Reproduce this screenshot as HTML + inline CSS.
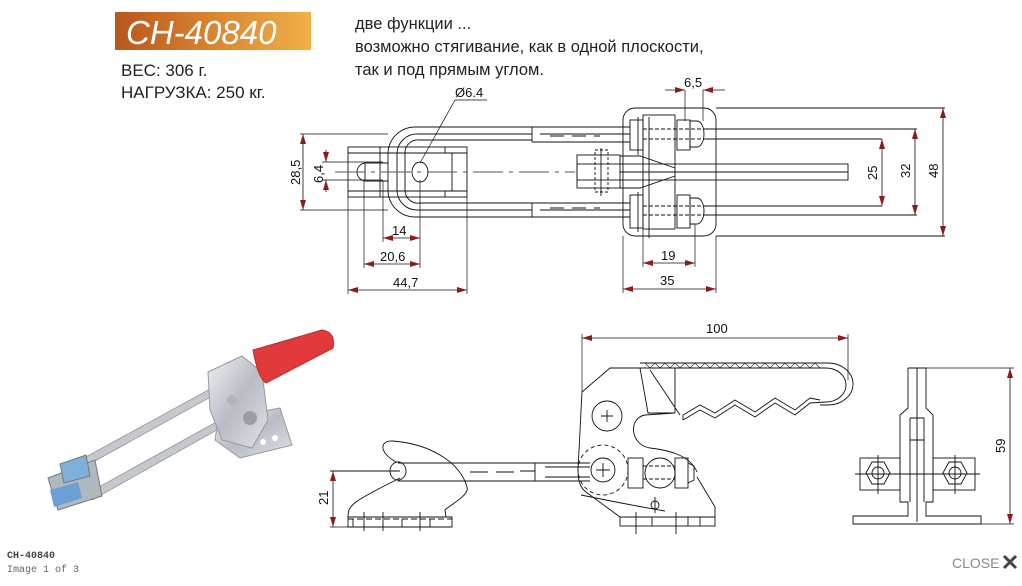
<!DOCTYPE html>
<html><head><meta charset="utf-8"><style>
html,body{margin:0;padding:0;background:#fff;width:1022px;height:586px;overflow:hidden}
svg{position:absolute;left:0;top:0}
text{font-family:"Liberation Sans",sans-serif}
text.mono{font-family:"Liberation Mono",monospace}
</style></head><body>
<svg width="1022" height="586" viewBox="0 0 1022 586" xmlns="http://www.w3.org/2000/svg">
<defs>
<linearGradient id="og" x1="0" x2="1" y1="0" y2="0"><stop offset="0" stop-color="#b8561c"/><stop offset="0.5" stop-color="#d98530"/><stop offset="1" stop-color="#f0b048"/></linearGradient>
<marker id="a" viewBox="0 0 10 6" refX="10" refY="3" markerWidth="10" markerHeight="6" orient="auto-start-reverse" markerUnits="userSpaceOnUse"><path d="M0,0 L10,3 L0,6z" fill="#8b1c1c"/></marker>
<linearGradient id="mg" x1="0" x2="1" y1="0" y2="1"><stop offset="0" stop-color="#eef0f3"/><stop offset="0.5" stop-color="#b8bcc4"/><stop offset="1" stop-color="#e0e3e8"/></linearGradient>
</defs>
<!-- header -->
<rect x="115" y="12" width="196" height="38" fill="url(#og)"/>
<text x="126" y="44" font-size="33" font-style="italic" fill="#fff">CH-40840</text>
<text x="121" y="76" font-size="17" fill="#222">ВЕС: 306 г.</text>
<text x="121" y="98" font-size="17" fill="#222">НАГРУЗКА: 250 кг.</text>
<text x="355" y="29" font-size="16.5" fill="#222">две функции ...</text>
<text x="355" y="52" font-size="16.5" fill="#222">возможно стягивание, как в одной плоскости,</text>
<text x="355" y="75" font-size="16.5" fill="#222">так и под прямым углом.</text>

<!-- photo -->
<g>
<path d="M62,470 L212,388 L216,394 L66,477z" fill="#c5c9cf" stroke="#888" stroke-width="0.7"/>
<path d="M88,493 L220,420 L224,426 L92,500z" fill="#c5c9cf" stroke="#888" stroke-width="0.7"/>
<path d="M48,478 L95,460 L102,496 L58,510z" fill="#b0b8c2" stroke="#777"/>
<path d="M60,464 L86,455 L90,476 L64,483z" fill="#7fb0dc" stroke="#777"/>
<path d="M50,490 L78,482 L82,498 L54,507z" fill="#6aa0d4"/>
<path d="M218,420 L280,408 L292,445 L240,458 L215,440z" fill="url(#mg)" stroke="#999"/>
<path d="M208,372 L242,356 L262,372 L268,420 L252,448 L222,440 L210,410z" fill="url(#mg)" stroke="#999"/>
<circle cx="250" cy="418" r="7" fill="#9a9ea6"/>
<circle cx="232" cy="400" r="5" fill="#b0b4bb"/>
<circle cx="263" cy="442" r="3" fill="#fff"/><circle cx="275" cy="438" r="3" fill="#fff"/>
<path d="M253,350 L322,330 Q336,332 333,348 L266,383 Q258,378 253,350z" fill="#e03a3a" stroke="#c02828"/>
</g>

<!-- footer -->
<text class="mono" x="7" y="558" font-size="10" font-weight="bold" fill="#444">CH-40840</text>
<text class="mono" x="7" y="572" font-size="10" fill="#666">Image 1 of 3</text>
<text x="952" y="568" font-size="14" fill="#888">CLOSE</text>
<path d="M1004,556 L1016,568 M1016,556 L1004,568" stroke="#444" stroke-width="3"/>

<!-- TOP DRAWING -->
<g fill="none" stroke="#111" stroke-width="0.9">
<rect x="348" y="147" width="119" height="50"/>
<line x1="348" y1="153" x2="467" y2="153"/><line x1="348" y1="191" x2="467" y2="191"/>
<line x1="380" y1="147" x2="380" y2="197"/><line x1="445" y1="147" x2="445" y2="153"/><line x1="445" y1="191" x2="445" y2="197"/>
<line x1="452" y1="153" x2="452" y2="191"/>
<path d="M388,163 L366,163 A9,9 0 0 0 366,181 L388,181"/>
<line x1="365" y1="163" x2="365" y2="181"/>
<ellipse cx="420" cy="172" rx="8" ry="10"/>
<path d="M532,127 L415,127 A27,27 0 0 0 388,154 L388,190 A27,27 0 0 0 415,217 L532,217"/>
<path d="M532,134 L418,134 A20,20 0 0 0 397,154 L397,190 A20,20 0 0 0 418,210 L532,210"/>
<path d="M532,140 L420,140 A13,13 0 0 0 405,154 L405,190 A13,13 0 0 0 420,203 L532,203"/>
<path d="M532,127 L630,127 M532,142 L630,142 M532,127 L532,142 M540,134 L630,134"/>
<path d="M532,203 L630,203 M532,217 L630,217 M532,203 L532,217 M540,210 L630,210"/>
<path d="M550,136 L600,136 M550,208 L600,208" stroke-dasharray="14,8"/>
<line x1="335" y1="172" x2="575" y2="172" stroke="#555" stroke-dasharray="30,6,4,6"/>
<rect x="577" y="155" width="43" height="33"/>
<rect x="577" y="164" width="271" height="16"/>
<path d="M620,156 L640,156 L675,168 M620,188 L640,188 L675,176 M620,172 L848,172"/>
<path d="M595,150 L608,150 L608,192 L595,192z" stroke-dasharray="3,2"/>
<line x1="601" y1="148" x2="601" y2="196"/>
<rect x="623" y="108" width="93" height="128" rx="12"/>
<rect x="643" y="115" width="32" height="114"/>
<rect x="630" y="120" width="13" height="30"/><rect x="677" y="120" width="13" height="30"/>
<path d="M690,121 L697,121 A7,13 0 0 1 697,147 L690,147z"/>
<rect x="630" y="195" width="13" height="33"/><rect x="677" y="195" width="13" height="33"/>
<path d="M690,198 L697,198 A7,13 0 0 1 697,224 L690,224z"/>
<path d="M643,129 L703,129 M643,139 L703,139 M643,206 L703,206 M643,215 L703,215" stroke-dasharray="4,2"/>
<line x1="638" y1="117" x2="638" y2="155"/><line x1="638" y1="192" x2="638" y2="232"/>
<line x1="649" y1="117" x2="649" y2="238"/>
<path d="M703,129 L917,129 M703,139 L882,139 M703,206 L882,206 M703,215 L917,215 M716,108 L945,108 M716,236 L945,236"/>
</g>
<g fill="none" stroke="#111" stroke-width="0.7">
<path d="M300,134 L388,134 M300,210 L388,210 M322,162 L383,162 M322,180 L383,180"/>
<path d="M348,197 L348,294 M467,197 L467,294 M364,181 L364,268 M420,180 L420,268 M383,181 L383,242"/>
<path d="M623,236 L623,293 M716,236 L716,293 M643,229 L643,267 M695,224 L695,267"/>
<path d="M685,90 L685,121 M703,90 L703,121"/>
<path d="M420,163 L455,100 L487,100"/>
</g>
<g stroke="#111" stroke-width="0.8" fill="none">
<line x1="303" y1="134" x2="303" y2="210" marker-start="url(#a)" marker-end="url(#a)"/>
<line x1="326" y1="150" x2="326" y2="162" marker-end="url(#a)"/>
<line x1="326" y1="192" x2="326" y2="180" marker-end="url(#a)"/>
<line x1="383" y1="238" x2="420" y2="238" marker-start="url(#a)" marker-end="url(#a)"/>
<line x1="364" y1="264" x2="420" y2="264" marker-start="url(#a)" marker-end="url(#a)"/>
<line x1="348" y1="290" x2="467" y2="290" marker-start="url(#a)" marker-end="url(#a)"/>
<line x1="643" y1="263" x2="695" y2="263" marker-start="url(#a)" marker-end="url(#a)"/>
<line x1="623" y1="289" x2="716" y2="289" marker-start="url(#a)" marker-end="url(#a)"/>
<line x1="665" y1="90" x2="685" y2="90" marker-end="url(#a)"/>
<line x1="725" y1="90" x2="703" y2="90" marker-end="url(#a)"/>
<line x1="882" y1="139" x2="882" y2="206" marker-start="url(#a)" marker-end="url(#a)"/>
<line x1="915" y1="129" x2="915" y2="215" marker-start="url(#a)" marker-end="url(#a)"/>
<line x1="943" y1="108" x2="943" y2="236" marker-start="url(#a)" marker-end="url(#a)"/>
</g>
<g font-size="13" fill="#111">
<text x="455" y="97">Ø6.4</text>
<text x="392" y="235">14</text>
<text x="380" y="261">20,6</text>
<text x="393" y="287">44,7</text>
<text x="661" y="260">19</text>
<text x="660" y="285">35</text>
<text x="684" y="87">6,5</text>
<text transform="translate(300,185) rotate(-90)">28,5</text>
<text transform="translate(323,183) rotate(-90)">6,4</text>
<text transform="translate(877,180) rotate(-90)">25</text>
<text transform="translate(910,178) rotate(-90)">32</text>
<text transform="translate(938,178) rotate(-90)">48</text>
</g>

<!-- BOTTOM DRAWING -->
<g fill="none" stroke="#111" stroke-width="0.9">
<path d="M348,527 L452,527 L452,517 L348,517 Z"/>
<path d="M348,517 C348,505 352,502 400,478"/>
<path d="M396,462 C378,452 380,440 393,441 C430,444 460,462 467,487 C470,495 450,505 445,510 L446,517"/>
<ellipse cx="398" cy="471" rx="8" ry="9"/>
<path d="M348,519 L452,519" stroke-dasharray="6,3"/>
<path d="M364,512 L364,531 M383,512 L383,531 M420,512 L420,531 M353,519 L353,527 M402,519 L402,527 M430,519 L430,527"/>
<path d="M398,463 L590,463 M398,481 L590,481 M535,463 L535,481 M545,467 L590,467 M545,477 L590,477"/>
<path d="M470,472 L520,472 M520,471 L535,471" stroke-dasharray="18,8"/>
<path d="M330,471 L400,471"/>
<path d="M582,392 L610,368 L640,368"/>
<path d="M582,392 L578,470 C578,485 582,490 590,495 L620,517 L715,517 L715,507 L697,477"/>
<rect x="620" y="517" width="95" height="9"/>
<path d="M636,512 L636,534 M676,512 L676,534 M652,517 L652,526 M688,517 L688,526 M700,517 L700,526"/>
<circle cx="607" cy="416" r="15"/>
<path d="M601,416 L613,416 M607,410 L607,422"/>
<path d="M675,413 L645,415 C628,418 630,445 650,448 C668,450 690,455 697,472"/>
<path d="M581,495 Q630,505 665,511" />
<circle cx="603" cy="470" r="25" stroke-dasharray="4,3"/>
<circle cx="603" cy="470" r="12"/>
<path d="M596,470 L610,470 M603,463 L603,477"/>
<rect x="628" y="458" width="15" height="30"/><rect x="675" y="458" width="13" height="30"/>
<circle cx="660" cy="473" r="15"/>
<path d="M643,466 L675,466 M643,479 L675,479" stroke-dasharray="4,2"/>
<path d="M688,463 L694,466 L694,480 L688,483"/>
<circle cx="655" cy="505" r="4"/><path d="M655,497 L655,513"/>
<path d="M640,363 L828,363 A25,21 0 0 1 828,405 L820,405"/>
<path d="M640,368 L826,368 A20,17 0 0 1 826,402"/>
<path d="M640,368 L648,413 L675,413 M675,368 L675,413 M650,370 L680,415" />
<path d="M683,420 L700,410 L715,418 L735,405 L755,417 L775,403 L795,415 L810,403 L826,402"/>
<path d="M683,415 L700,405 L715,413 L735,400 L755,412 L775,398 L795,410 L810,398 L820,400"/>
<path d="M683,415 L683,420"/>
<path d="M645,363 l5,5 l5,-5 l5,5 l5,-5 l5,5 l5,-5 l5,5 l5,-5 l5,5 l5,-5 l5,5 l5,-5 l5,5 l5,-5 l5,5 l5,-5 l5,5 l5,-5 l5,5 l5,-5 l5,5 l5,-5 l5,5 l5,-5 l5,5 l5,-5 l5,5 l5,-5 l5,5 l5,-5 l5,5 l5,-5 l5,5 l5,-5 l5,5" stroke-width="0.6"/>
<path d="M908,368 L926,368 M908,368 L908,408 L900,415 L900,502 L908,502 L908,516 L853,516 L853,524 L981,524 L981,516 L926,516 L926,502 L933,502 L933,415 L926,408 L926,368"/>
<path d="M917,368 L917,522 M910,418 L924,418 L924,502 M910,418 L910,502 M910,440 L924,440"/>
<rect x="860" y="458" width="40" height="32"/><rect x="933" y="458" width="42" height="32"/>
<path d="M866,473 L872,462 L884,462 L890,473 L884,484 L872,484z"/>
<circle cx="878" cy="473" r="6"/>
<path d="M943,473 L949,462 L961,462 L967,473 L961,484 L949,484z"/>
<circle cx="955" cy="473" r="6"/>
<path d="M855,474 L980,474 M878,455 L878,494 M955,455 L955,494"/>
</g>
<g fill="none" stroke="#111" stroke-width="0.7">
<path d="M582,334 L582,392 M848,334 L848,380 M926,368 L1014,368 M981,524 L1014,524 M330,527 L348,527"/>
</g>
<g stroke="#111" stroke-width="0.8" fill="none">
<line x1="582" y1="338" x2="848" y2="338" marker-start="url(#a)" marker-end="url(#a)"/>
<line x1="1010" y1="368" x2="1010" y2="524" marker-start="url(#a)" marker-end="url(#a)"/>
<line x1="333" y1="471" x2="333" y2="527" marker-start="url(#a)" marker-end="url(#a)"/>
</g>
<g font-size="13" fill="#111">
<text x="706" y="333">100</text>
<text transform="translate(1005,453) rotate(-90)">59</text>
<text transform="translate(328,505) rotate(-90)">21</text>
</g>
</svg>
</body></html>
